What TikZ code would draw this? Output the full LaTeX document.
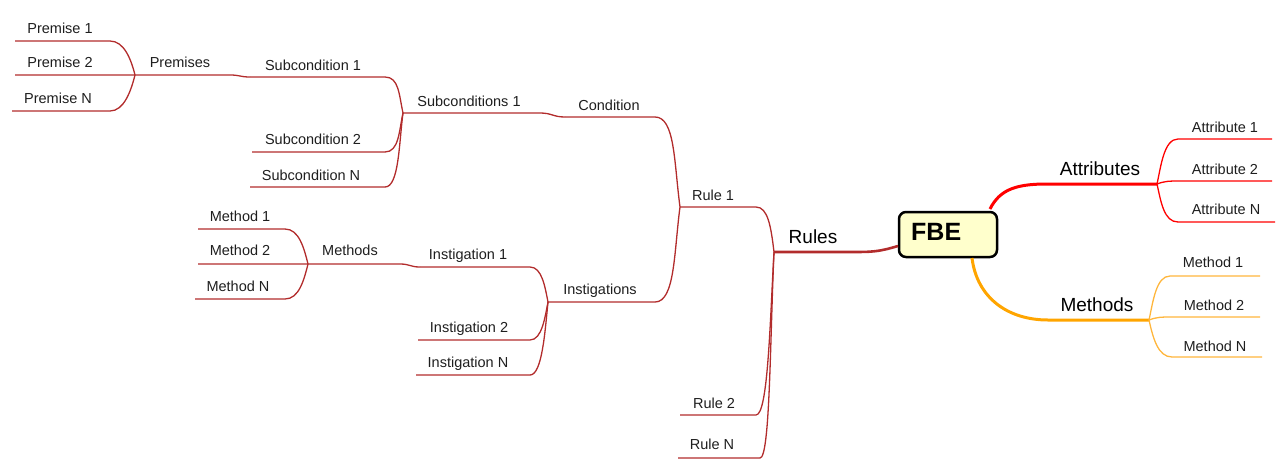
\documentclass[tikz,border=0pt]{standalone}
\usepackage{fontspec}
\setmainfont{Liberation Sans}
\definecolor{rulec}{RGB}{178,44,44}
\definecolor{attrc}{RGB}{255,0,0}
\definecolor{methc}{RGB}{255,165,0}
\definecolor{methl}{RGB}{255,182,60}
\definecolor{fbefill}{RGB}{255,255,204}
\definecolor{txt}{RGB}{30,30,30}
\begin{document}
\begin{tikzpicture}[x=1pt,y=-1pt,
  lbl/.style={anchor=base,inner sep=0pt,font=\fontsize{14.5}{16}\selectfont,text=txt},
  big/.style={anchor=base,inner sep=0pt,font=\fontsize{19}{22}\selectfont,text=black},
  rl/.style={draw=rulec,line width=1.3pt},
  rlmain/.style={draw=rulec,line width=2.6pt},
  al/.style={draw=attrc,line width=1.3pt},
  almain/.style={draw=attrc,line width=3pt},
  ml/.style={draw=methl,line width=1.3pt},
  mlmain/.style={draw=methc,line width=3pt},
  fbebox/.style={draw=black,line width=2.5pt,rounded corners=7pt,fill=fbefill,minimum width=98pt,minimum height=45pt,inner sep=0pt}
]
\useasboundingbox (0,0) rectangle (1286,469);

% ---------- central topic ----------
\node[fbebox] (fbe) at (948,234.5) {};
\node[anchor=base west,inner sep=0pt,font=\fontsize{25}{28}\selectfont\bfseries] (fbet) at (911,240) {FBE};

% ---------- coordinates ----------
\coordinate (ruS) at (898,246);
\coordinate (ruM) at (850,252);
\coordinate (ruJ) at (774,252);
\coordinate (ru1L) at (680,207); \coordinate (ru1R) at (756,207);
\coordinate (ru2L) at (680,415); \coordinate (ru2R) at (756,415);
\coordinate (ruNL) at (678,458); \coordinate (ruNR) at (760,458);

\coordinate (coL) at (565,117); \coordinate (coR) at (655,117);
\coordinate (inJ) at (548,302); \coordinate (inR) at (655,302);

\coordinate (scJ) at (403,113); \coordinate (scR) at (540,113);
\coordinate (sc1L) at (250,77); \coordinate (sc1R) at (385,77);
\coordinate (sc2L) at (252,152); \coordinate (sc2R) at (385,152);
\coordinate (scNL) at (250,187); \coordinate (scNR) at (385,187);

\coordinate (prJ) at (135,75); \coordinate (prR) at (230,75);
\coordinate (pr1L) at (15,41); \coordinate (pr1R) at (110,41);
\coordinate (pr2L) at (15,75);
\coordinate (prNL) at (12,111); \coordinate (prNR) at (110,111);

\coordinate (in1L) at (420,267); \coordinate (in1R) at (530,267);
\coordinate (in2L) at (418,340); \coordinate (in2R) at (530,340);
\coordinate (inNL) at (416,375); \coordinate (inNR) at (530,375);

\coordinate (meJ) at (308,264); \coordinate (meR) at (400,264);
\coordinate (me1L) at (198,229); \coordinate (me1R) at (285,229);
\coordinate (me2L) at (198,264);
\coordinate (meNL) at (195,299); \coordinate (meNR) at (285,299);

\coordinate (atS) at (990,209); \coordinate (atM) at (1047,184); \coordinate (atJ) at (1157,184);
\coordinate (at1L) at (1178,139); \coordinate (at1R) at (1272,139);
\coordinate (at2L) at (1178,181); \coordinate (at2R) at (1272,181);
\coordinate (atNL) at (1178,222); \coordinate (atNR) at (1275,222);

\coordinate (mrS) at (972,258); \coordinate (mrM) at (1048,320); \coordinate (mrJ) at (1149,320);
\coordinate (mr1L) at (1170,276); \coordinate (mr1R) at (1260,276);
\coordinate (mr2L) at (1170,317); \coordinate (mr2R) at (1260,317);
\coordinate (mrNL) at (1172,357); \coordinate (mrNR) at (1262,357);

% ---------- Rules branch ----------
\draw[rlmain] (ruS) .. controls +(-20,6) and +(22,0) .. (ruM) -- (ruJ);
\draw[rl] (ru1L) -- (ru1R) .. controls +(12,0) and +(-3,-25) .. (ruJ);
\draw[rl] (ru2L) -- (ru2R) .. controls +(12,0) and +(-4,70) .. (ruJ);
\draw[rl] (ruNL) -- (ruNR) .. controls +(10,0) and +(-4,90) .. (ruJ);

\draw[rl] (coL) -- (coR) .. controls +(20,0) and +(-6,-45) .. (ru1L);
\draw[rl] (inJ) -- (inR) .. controls +(20,0) and +(-6,45) .. (ru1L);

\draw[rl] (scJ) -- (scR) .. controls +(12,0) and +(-12,0) .. (coL);
\draw[rl] (sc1L) -- (sc1R) .. controls +(14,0) and +(-4,-18) .. (scJ);
\draw[rl] (sc2L) -- (sc2R) .. controls +(14,0) and +(-4,18) .. (scJ);
\draw[rl] (scNL) -- (scNR) .. controls +(14,0) and +(-4,30) .. (scJ);

% Premise 2 runs straight into the Premises line
\draw[rl] (pr2L) -- (prJ) -- (prR) .. controls +(10,0) and +(-10,0) .. (sc1L);
\draw[rl] (pr1L) -- (pr1R) .. controls +(14,0) and +(-4,-16) .. (prJ);
\draw[rl] (prNL) -- (prNR) .. controls +(14,0) and +(-4,16) .. (prJ);

\draw[rl] (in1L) -- (in1R) .. controls +(12,0) and +(-3,-15) .. (inJ);
\draw[rl] (in2L) -- (in2R) .. controls +(12,0) and +(-3,15) .. (inJ);
\draw[rl] (inNL) -- (inNR) .. controls +(12,0) and +(-3,30) .. (inJ);

% Method 2 runs straight into the Methods line
\draw[rl] (me2L) -- (meJ) -- (meR) .. controls +(10,0) and +(-10,0) .. (in1L);
\draw[rl] (me1L) -- (me1R) .. controls +(14,0) and +(-4,-16) .. (meJ);
\draw[rl] (meNL) -- (meNR) .. controls +(14,0) and +(-4,16) .. (meJ);

% ---------- Attributes branch ----------
\draw[almain] (atS) .. controls +(10,-20) and +(-30,0) .. (atM) -- (atJ);
\draw[al] (atJ) .. controls +(4,-18) and +(-14,0) .. (at1L) -- (at1R);
\draw[al] (atJ) .. controls +(8,-3) and +(-8,0) .. (at2L) -- (at2R);
\draw[al] (atJ) .. controls +(4,18) and +(-14,0) .. (atNL) -- (atNR);

% ---------- Methods branch ----------
\draw[mlmain] (mrS) .. controls +(5,40) and +(-40,0) .. (mrM) -- (mrJ);
\draw[ml] (mrJ) .. controls +(4,-18) and +(-14,0) .. (mr1L) -- (mr1R);
\draw[ml] (mrJ) .. controls +(8,-3) and +(-8,0) .. (mr2L) -- (mr2R);
\draw[ml] (mrJ) .. controls +(4,18) and +(-14,0) .. (mrNL) -- (mrNR);

% ---------- labels ----------
\node[big] (rules) at (813,243.5) {Rules};
\node[big] (attrs) at (1100,175) {Attributes};
\node[big] (meths) at (1097,311.5) {Methods};

\node[lbl] (premise1) at (60,33) {Premise 1};
\node[lbl] (premise2) at (60,67) {Premise 2};
\node[lbl] (premiseN) at (58,103) {Premise N};
\node[lbl] (premises) at (180,67) {Premises};
\node[lbl] (subc1) at (313,70) {Subcondition 1};
\node[lbl] (subcs1) at (469,106) {Subconditions 1};
\node[lbl] (cond) at (609,110) {Condition};
\node[lbl] (subc2) at (313,144) {Subcondition 2};
\node[lbl] (subcN) at (311,180) {Subcondition N};
\node[lbl] (rule1) at (713,200.5) {Rule 1};
\node[lbl] (lm1) at (240,221) {Method 1};
\node[lbl] (lm2) at (240,255.5) {Method 2};
\node[lbl] (lmN) at (238,291.5) {Method N};
\node[lbl] (lmeth) at (350,255.5) {Methods};
\node[lbl] (inst1) at (468,259) {Instigation 1};
\node[lbl] (insts) at (600,294) {Instigations};
\node[lbl] (inst2) at (469,332) {Instigation 2};
\node[lbl] (instN) at (468,367) {Instigation N};
\node[lbl] (rule2) at (714,408) {Rule 2};
\node[lbl] (ruleN) at (712,449) {Rule N};
\node[lbl] (attr1) at (1225,132.5) {Attribute 1};
\node[lbl] (attr2) at (1225,174) {Attribute 2};
\node[lbl] (attrN) at (1226,214) {Attribute N};
\node[lbl] (rm1) at (1213,267.5) {Method 1};
\node[lbl] (rm2) at (1214,310) {Method 2};
\node[lbl] (rmN) at (1215,351.5) {Method N};
\end{tikzpicture}
\end{document}
